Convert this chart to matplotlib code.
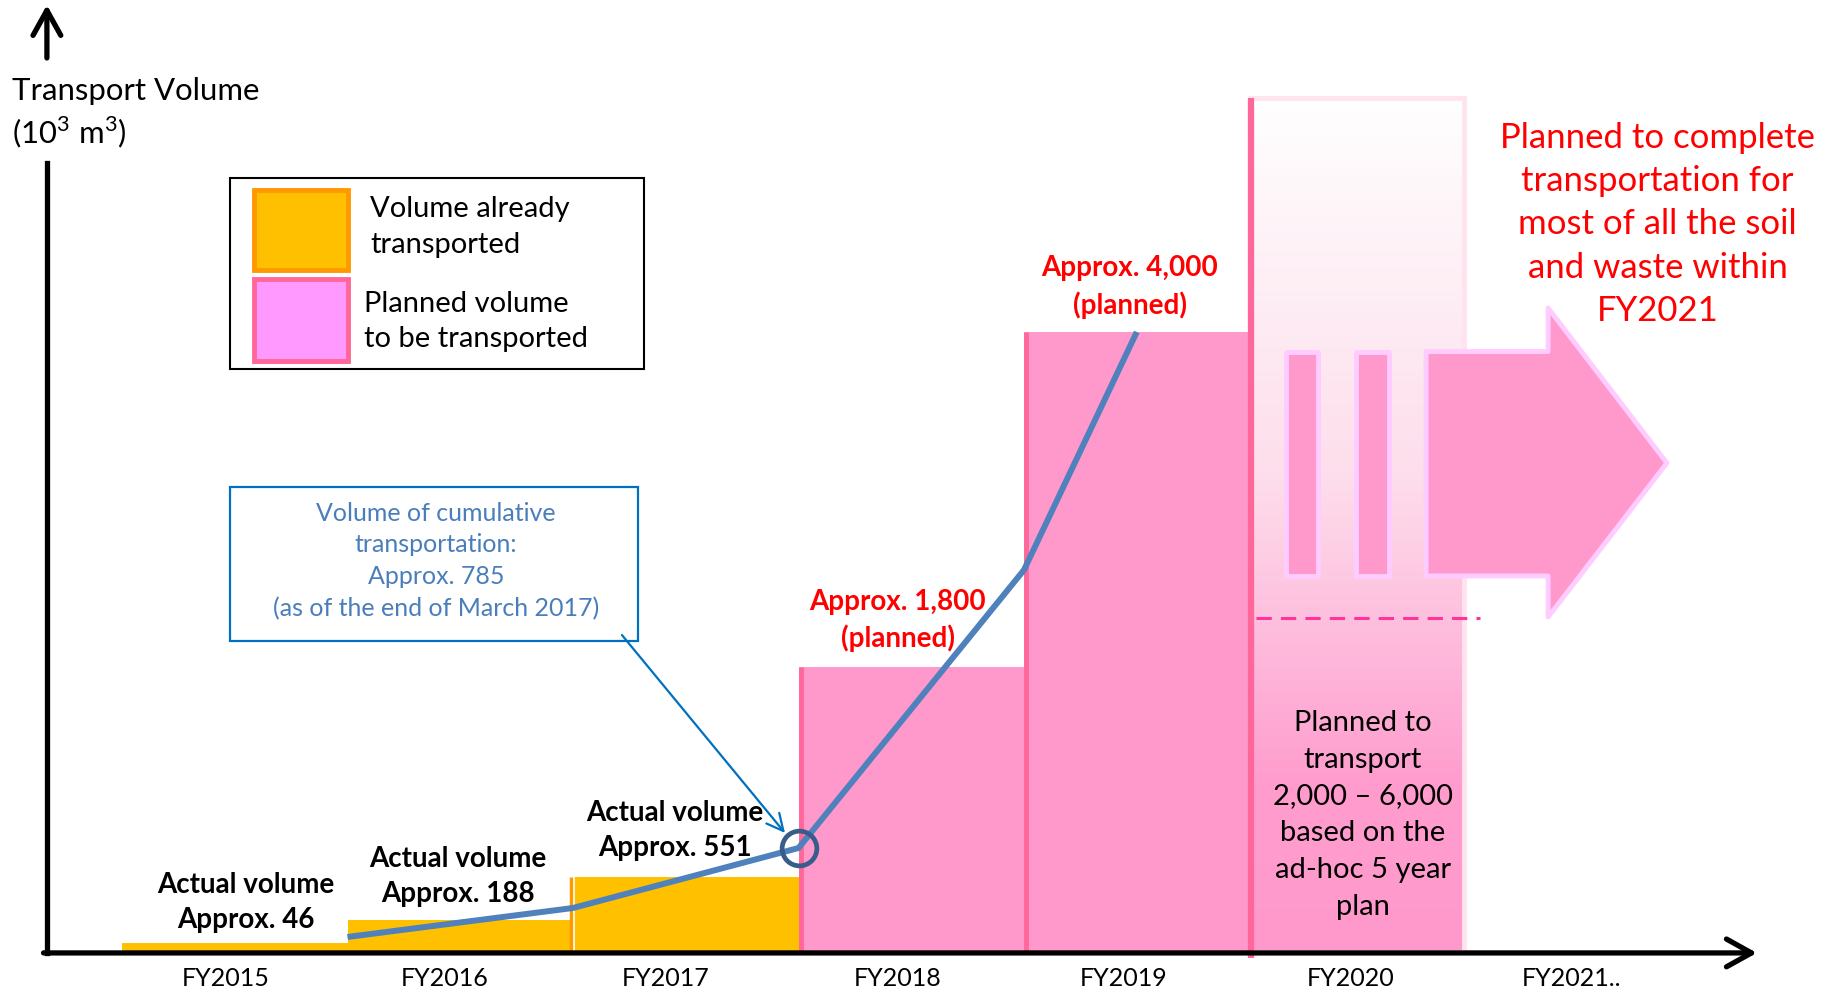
import matplotlib.pyplot as plt
import numpy as np
from matplotlib.patches import Rectangle, Polygon
from matplotlib.colors import LinearSegmentedColormap

plt.rcParams["font.family"] = ["Lato", "DejaVu Sans"]
plt.rcParams["mathtext.fontset"] = "custom"
plt.rcParams["mathtext.rm"] = "Lato"

# data (10^3 m3), bar heights (schematic scale)
years = ["FY2015", "FY2016", "FY2017", "FY2018", "FY2019", "FY2020", "FY2021.."]
tick_pos = [0.46, 1.43, 2.41, 3.44, 4.44, 5.45, 6.43]
bar_left = [0, 1, 2, 3, 4]
bar_heights = [58, 206, 484, 1839, 4000]
bar_planned = [False, False, False, True, True]
bar_labels = [
    "Actual volume\nApprox. 46",
    "Actual volume\nApprox. 188",
    "Actual volume\nApprox. 551",
    "Approx. 1,800\n(planned)",
    "Approx. 4,000\n(planned)",
]
label_x = [0.55, 1.49, 2.45, 3.44, 4.47]
label_y = [319, 484, 781, 2139, 4290]

cum_x = [1, 2, 3, 4, 4.5]
cum_y = [97, 284, 671, 2465, 4000]

fy2020_left = 5.0
fy2020_width = 0.95
fy2020_top = 5510
fy2020_dash = 2155

# pixel mapping: x = 122 + 225.5*d, y = 952 - 0.155*v
fig = plt.figure(figsize=(18.25, 9.91), dpi=100, facecolor="white")
ax = fig.add_axes([0, 0, 1, 1])
ax.axis("off")

ORANGE = "#FFC000"
PINK = "#FF99CC"
DPINK = "#FF6699"
BLUE = "#4F81BD"

# bars
for x, h, p in zip(bar_left, bar_heights, bar_planned):
    ax.bar(x, h, width=1.0, align="edge", color=PINK if p else ORANGE,
           edgecolor="none", zorder=2)
    if p:
        ax.vlines(x + 0.01, 0, h, color=DPINK, lw=3.5, zorder=3)
ax.vlines(1.99, 0, bar_heights[2], color="#FF9900", lw=2.5, zorder=3)
ax.vlines(2.005, 0, bar_heights[2], color="white", lw=1.2, zorder=3)

# FY2020 gradient column
cmap = LinearSegmentedColormap.from_list(
    "fy20", [(0, PINK), (0.2, "#FF9DCE"), (0.55, "#FDDDEB"), (1, "#FFFFFF")])
grad = np.linspace(0, 1, 256).reshape(-1, 1)
ax.imshow(grad, cmap=cmap, origin="lower", aspect="auto",
          extent=(fy2020_left, fy2020_left + fy2020_width, 0, fy2020_top), zorder=1)
ax.add_patch(Rectangle((fy2020_left, 0), fy2020_width, fy2020_top, fill=False,
                       edgecolor="#FFE4EE", lw=3.5, zorder=1.5))
ax.vlines(fy2020_left + 0.005, -40, fy2020_top, color=DPINK, lw=4.5, zorder=3)
ax.hlines(fy2020_dash, fy2020_left + 0.03, fy2020_left + 1.02, color="#FF3399",
          lw=2.2, linestyles=(0, (5, 3)), zorder=3)

# continuation arrow
arr_style = dict(facecolor=PINK, edgecolor="#FFCCFF", lw=3.5, joinstyle="round", zorder=3)
y_lo, y_hi = 2426, 3874
for x0, x1 in [(5.162, 5.304), (5.472, 5.619)]:
    ax.add_patch(Rectangle((x0, y_lo), x1 - x0, y_hi - y_lo, **arr_style))
ax.add_patch(Polygon([(5.783, y_lo), (6.324, y_lo), (6.324, 2161), (6.851, 3155),
                      (6.324, 4155), (6.324, y_hi), (5.783, y_hi)],
                     closed=True, **arr_style))

# cumulative line
ax.plot(cum_x, cum_y, color=BLUE, lw=4.3, solid_capstyle="butt", zorder=4)
ax.plot(cum_x[2], cum_y[2], "o", ms=25, mfc="none", mec="#385D8A", mew=3.4, zorder=5)

# axes arrows
axis_x = -0.333
head = "->,head_length=0.9,head_width=0.5"
ax.annotate("", xy=(7.25, -6), xytext=(axis_x - 0.015, -6),
            arrowprops=dict(arrowstyle=head, lw=3.8, color="black", mutation_scale=20,
                            shrinkA=0, shrinkB=0), zorder=6)
ax.plot([axis_x, axis_x], [-6, 5090], color="black", lw=3.8, zorder=6)
ax.annotate("", xy=(axis_x, 6110), xytext=(axis_x, 5768),
            arrowprops=dict(arrowstyle=head, lw=3.8, color="black", mutation_scale=20,
                            shrinkA=0, shrinkB=0), zorder=6)
ax.text(-0.488, 5555, "Transport Volume", fontsize=22.4, ha="left", va="center")
ax.text(-0.488, 5290, r"(10$^3$ m$^3$)", fontsize=22.4, ha="left", va="center")

for x, lab in zip(tick_pos, years):
    ax.text(x, -168, lab, fontsize=18, ha="center", va="center")

# bar labels
for x, y, lab, p in zip(label_x, label_y, bar_labels, bar_planned):
    ax.text(x, y, lab, fontsize=20, fontweight="bold", ha="center", va="center",
            color="#FF0000" if p else "black", linespacing=1.43, zorder=7)

ax.text(5.503, 884, "Planned to\ntransport\n2,000 – 6,000\nbased on the\nad-hoc 5 year\nplan",
        fontsize=21, ha="center", va="center", linespacing=1.52, zorder=7)
ax.text(6.81, 4694, "Planned to complete\ntransportation for\nmost of all the soil\nand waste within\nFY2021",
        fontsize=25, ha="center", va="center", color="#FF0000", linespacing=1.44, zorder=7)

# legend box
ax.add_patch(Rectangle((0.479, 3761), 2.315 - 0.479, 4994 - 3761, fill=False,
                       edgecolor="black", lw=1.5, zorder=6))
ax.add_patch(Rectangle((0.585, 4400), 0.415, 516, facecolor=ORANGE,
                       edgecolor="#FF9900", lw=3.5, zorder=6))
ax.add_patch(Rectangle((0.585, 3813), 0.415, 529, facecolor="#FF99FF",
                       edgecolor=DPINK, lw=3.5, zorder=6))
ax.text(1.10, 4677, "Volume already\ntransported", fontsize=21, ha="left",
        va="center", linespacing=1.46, zorder=7)
ax.text(1.073, 4068, "Planned volume\nto be transported", fontsize=21, ha="left",
        va="center", linespacing=1.46, zorder=7)

# cumulative annotation
ax.add_patch(Rectangle((0.479, 2006), 2.288 - 0.479, 3000 - 2006, fill=False,
                       edgecolor="#0070C0", lw=1.6, zorder=6))
ax.text(1.392, 2523, "Volume of cumulative\ntransportation:\nApprox. 785\n(as of the end of March 2017)",
        fontsize=18, ha="center", va="center", color="#4A7EBB", linespacing=1.46, zorder=7)
ax.annotate("", xy=(2.94, 768), xytext=(2.217, 2045),
            arrowprops=dict(arrowstyle="->,head_length=0.6,head_width=0.3",
                            lw=1.6, color="#0070C0", mutation_scale=20,
                            shrinkA=0, shrinkB=0), zorder=6)

ax.set_xlim(-0.541, 7.552)
ax.set_ylim(-251.6, 6141.9)

fig.savefig("out.png", dpi=100, facecolor="white")
